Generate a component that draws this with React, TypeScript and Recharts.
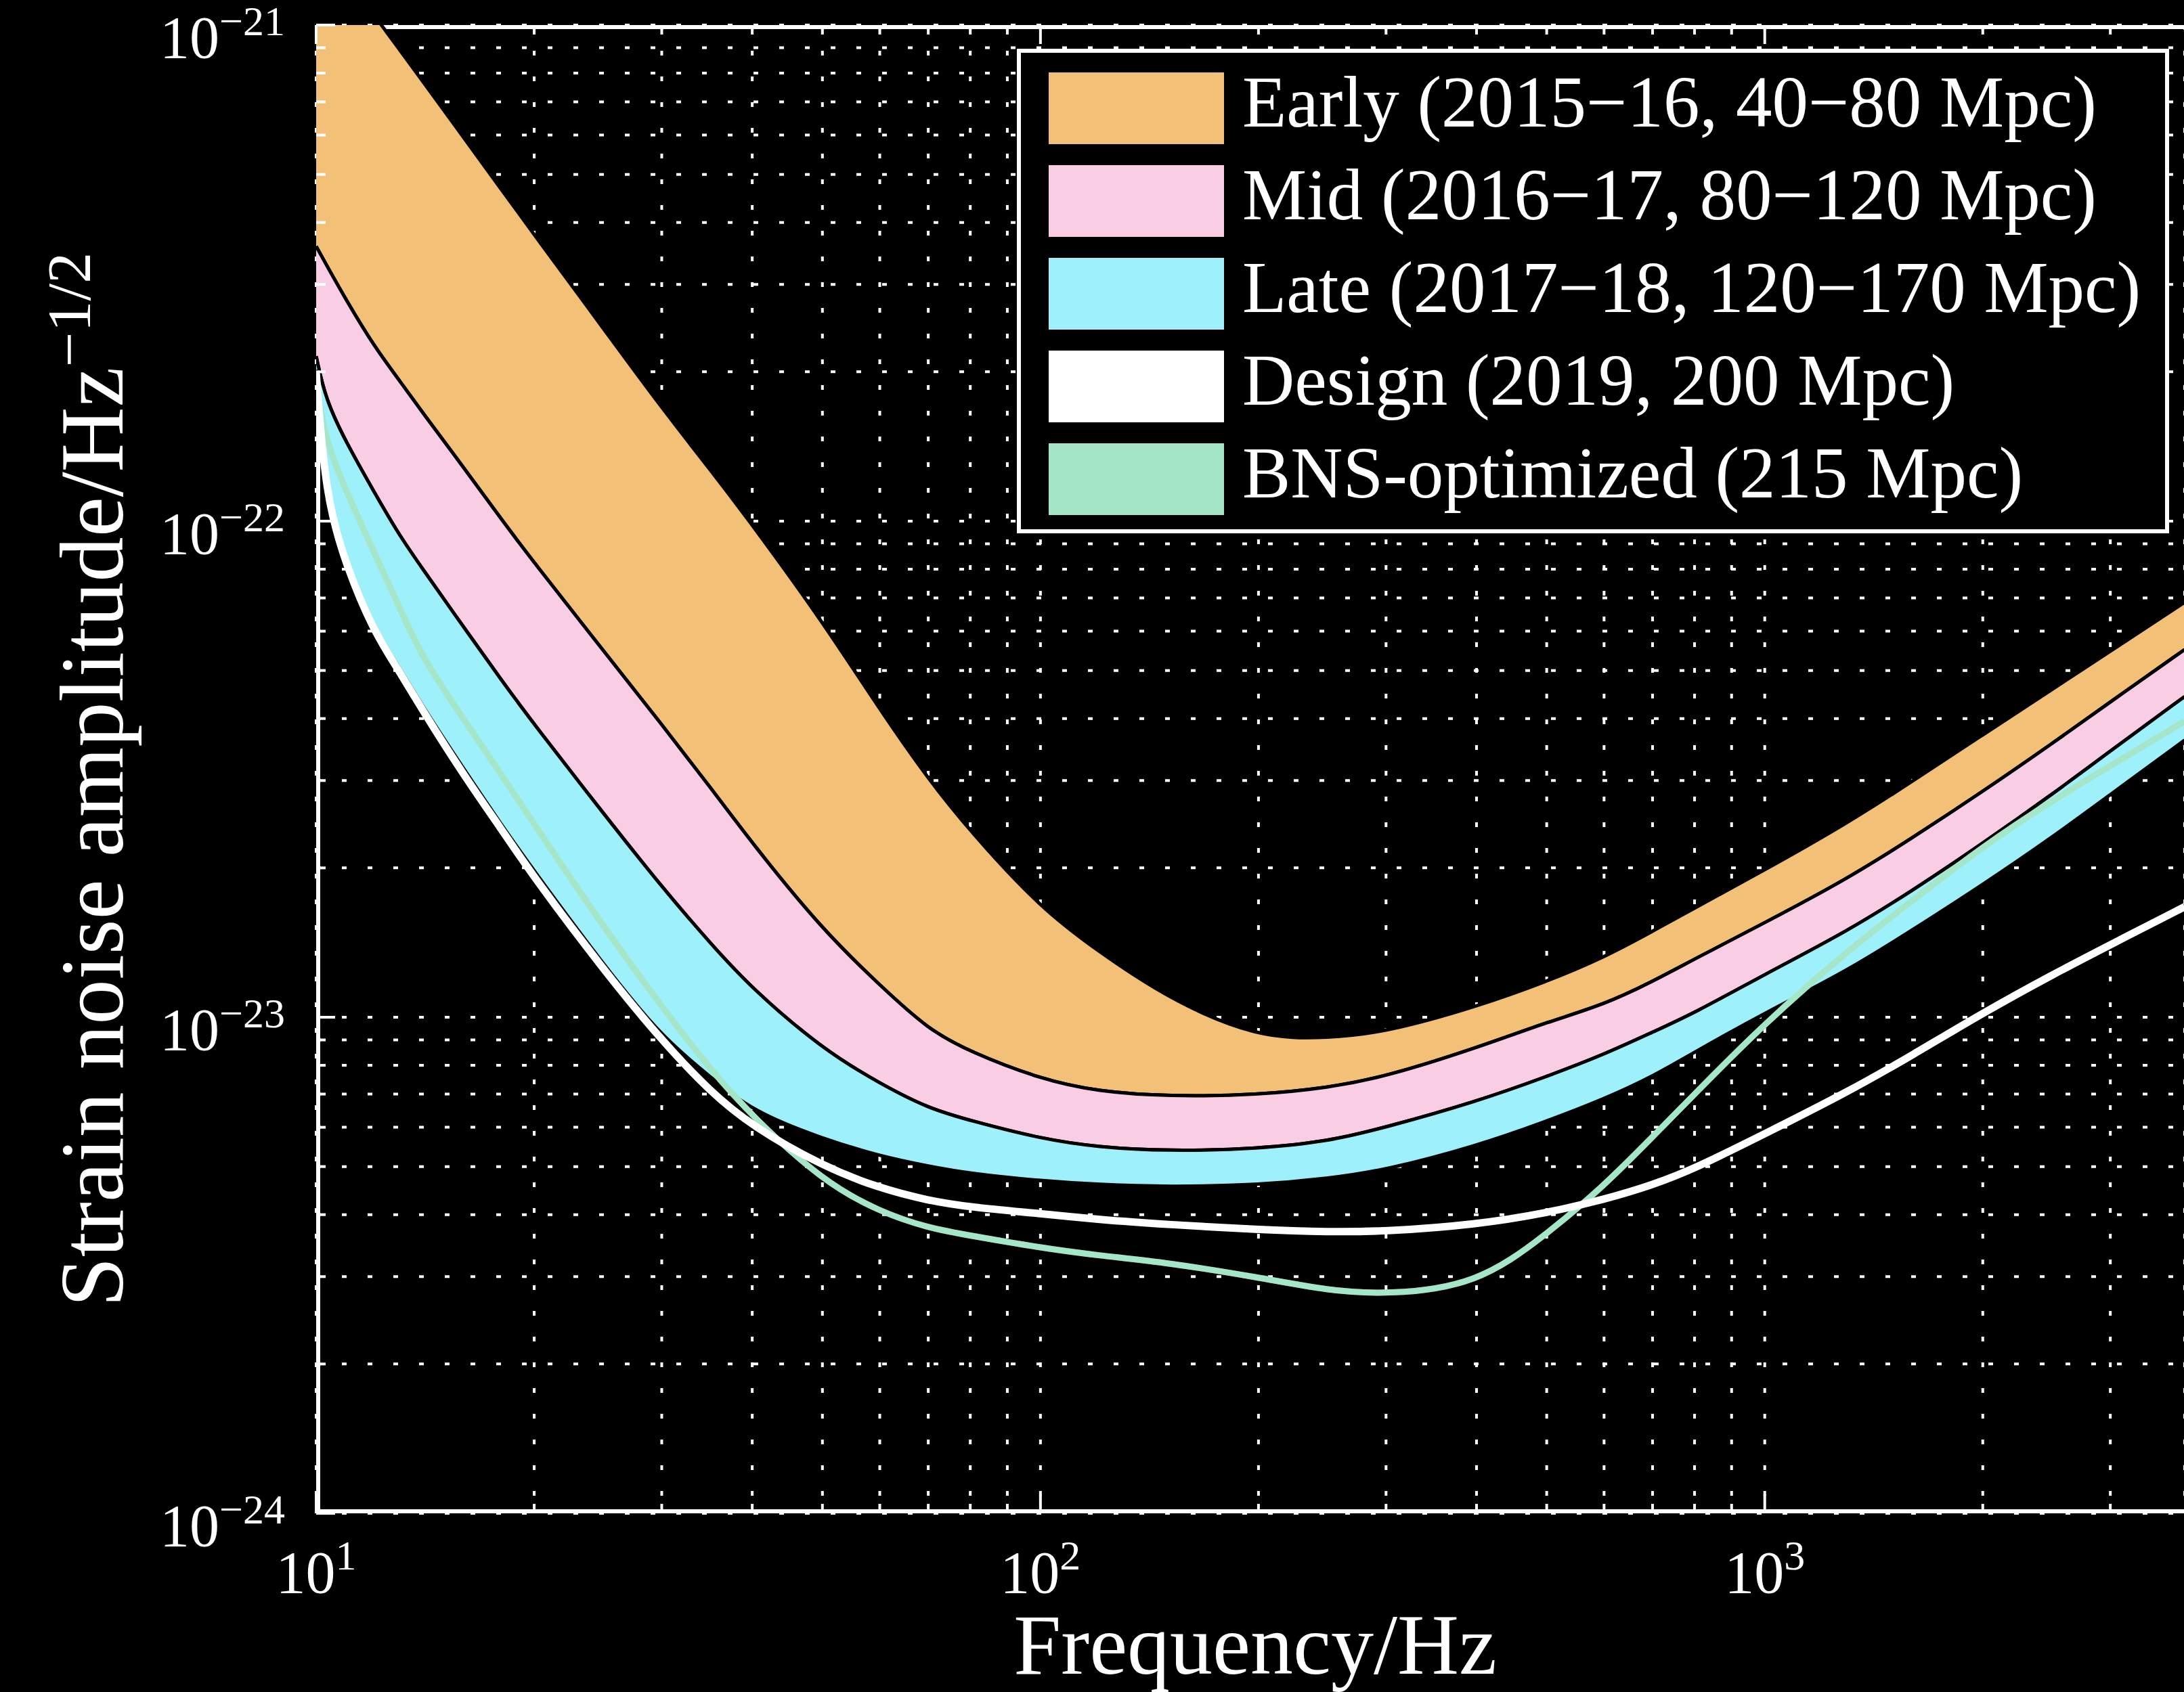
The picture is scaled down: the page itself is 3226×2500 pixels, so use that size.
import React from "react"
import {
  ComposedChart,
  Area,
  Line,
  XAxis,
  YAxis,
  CartesianGrid,
  Legend,
} from "recharts"

// frequency grid (Hz) shared by every curve
const FREQ = [
  10, 10.3, 11, 12, 13, 14, 16, 18, 20, 25, 30, 35, 40, 50, 60, 70, 80, 100, 120,
  150, 200, 250, 300, 400, 500, 600, 700, 800, 1000, 1300, 1600, 2000, 2500, 3000,
  3800,
]

// strain noise amplitude, 1/sqrt(Hz)
const EARLY_HI = [
  1.51e-21, 1.43e-21, 1.26e-21, 1.05e-21, 8.97e-22, 7.74e-22, 5.92e-22, 4.67e-22,
  3.78e-22, 2.43e-22, 1.69e-22, 1.27e-22, 9.84e-23, 6.28e-23, 4.17e-23, 3.02e-23,
  2.37e-23, 1.66e-23, 1.36e-23, 1.09e-23, 9.06e-24, 9.08e-24, 9.33e-24, 1.05e-23,
  1.18e-23, 1.32e-23, 1.49e-23, 1.66e-23, 1.98e-23, 2.46e-23, 2.99e-23, 3.71e-23,
  4.59e-23, 5.47e-23, 6.86e-23,
]
const EARLY_LO = [
  3.58e-22, 3.31e-22, 2.79e-22, 2.26e-22, 1.93e-22, 1.66e-22, 1.28e-22, 1.01e-22,
  8.24e-23, 5.45e-23, 3.89e-23, 2.91e-23, 2.24e-23, 1.5e-23, 1.16e-23, 9.44e-24,
  8.51e-24, 7.5e-24, 7.08e-24, 6.92e-24, 6.97e-24, 7.21e-24, 7.59e-24, 8.67e-24,
  9.77e-24, 1.06e-23, 1.18e-23, 1.31e-23, 1.55e-23, 1.9e-23, 2.3e-23, 2.85e-23,
  3.57e-23, 4.32e-23, 5.51e-23,
]
const MID_LO = [
  2.15e-22, 1.76e-22, 1.44e-22, 1.15e-22, 9.4e-23, 8.04e-23, 6.1e-23, 4.79e-23,
  3.89e-23, 2.56e-23, 1.83e-23, 1.41e-23, 1.14e-23, 8.63e-24, 7.35e-24, 6.55e-24,
  6.19e-24, 5.69e-24, 5.47e-24, 5.37e-24, 5.43e-24, 5.62e-24, 6.0e-24, 6.76e-24,
  7.59e-24, 8.41e-24, 9.33e-24, 1.02e-23, 1.22e-23, 1.49e-23, 1.8e-23, 2.24e-23,
  2.82e-23, 3.44e-23, 4.43e-23,
]
const LATE_LO = [
  2.02e-22, 1.14e-22, 8.3e-23, 6.1e-23, 5.1e-23, 4.25e-23, 3.16e-23, 2.45e-23,
  1.97e-23, 1.27e-23, 9.12e-24, 7.59e-24, 6.46e-24, 5.69e-24, 5.25e-24, 5.01e-24,
  4.84e-24, 4.68e-24, 4.6e-24, 4.55e-24, 4.59e-24, 4.73e-24, 4.92e-24, 5.5e-24,
  6.17e-24, 6.84e-24, 7.59e-24, 8.51e-24, 1.02e-23, 1.24e-23, 1.5e-23, 1.85e-23,
  2.31e-23, 2.81e-23, 3.62e-23,
]
const DESIGN = [
  2.0e-22, 1.12e-22, 8.13e-23, 6.0e-23, 5.01e-23, 4.17e-23, 3.07e-23, 2.4e-23,
  1.91e-23, 1.24e-23, 8.97e-24, 7.08e-24, 6.03e-24, 5.01e-24, 4.52e-24, 4.27e-24,
  4.14e-24, 4.02e-24, 3.91e-24, 3.82e-24, 3.73e-24, 3.69e-24, 3.7e-24, 3.82e-24,
  4.03e-24, 4.29e-24, 4.59e-24, 4.95e-24, 5.82e-24, 7.06e-24, 8.39e-24, 1.02e-23,
  1.22e-23, 1.4e-23, 1.67e-23,
]
const BNS = [
  1.9e-22, 1.45e-22, 1.15e-22, 8.7e-23, 6.76e-23, 5.31e-23, 3.98e-23, 3.09e-23,
  2.45e-23, 1.51e-23, 1.05e-23, 7.85e-24, 6.31e-24, 4.68e-24, 4.05e-24, 3.76e-24,
  3.63e-24, 3.43e-24, 3.31e-24, 3.2e-24, 2.99e-24, 2.81e-24, 2.76e-24, 2.88e-24,
  3.65e-24, 4.57e-24, 5.74e-24, 7.0e-24, 9.73e-24, 1.36e-23, 1.72e-23, 2.21e-23,
  2.74e-23, 3.21e-23, 3.95e-23,
]

const X_TICKS = [
  10, 20, 30, 40, 50, 60, 70, 80, 90, 100, 200, 300, 400, 500, 600, 700, 800, 900,
  1000, 2000, 3000,
]
const Y_TICKS = [
  1e-24, 2e-24, 3e-24, 4e-24, 5e-24, 6e-24, 7e-24, 8e-24, 9e-24,
  1e-23, 2e-23, 3e-23, 4e-23, 5e-23, 6e-23, 7e-23, 8e-23, 9e-23,
  1e-22, 2e-22, 3e-22, 4e-22, 5e-22, 6e-22, 7e-22, 8e-22, 9e-22,
  1e-21,
]

const COLORS = {
  early: "#F2C076",
  mid: "#F9CEE5",
  late: "#9EF0FA",
  design: "#FFFFFF",
  bns: "#A6E6C8",
}

const LEGEND_ITEMS = [
  { label: "Early (2015\u221216, 40\u221280 Mpc)", color: COLORS.early },
  { label: "Mid (2016\u221217, 80\u2212120 Mpc)", color: COLORS.mid },
  { label: "Late (2017\u221218, 120\u2212170 Mpc)", color: COLORS.late },
  { label: "Design (2019, 200 Mpc)", color: COLORS.design },
  { label: "BNS-optimized (215 Mpc)", color: COLORS.bns },
]

const FONT = '"Liberation Serif", "DejaVu Serif", serif'
const PLOT_TOP = 37
const PLOT_LEFT = 467
const PLOT_BOTTOM = 2236

const band = (lo: number[], hi: number[]) =>
  FREQ.map((f, i) => ({ f, lo: lo[i], hi: hi[i] }))
const curve = (v: number[]) => FREQ.map((f, i) => ({ f, v: v[i] }))

const earlyData = band(EARLY_LO, EARLY_HI)
const midData = band(MID_LO, EARLY_LO)
const lateData = band(LATE_LO, MID_LO)
const designData = curve(DESIGN)
const bnsData = curve(BNS)

const exponent = (v: number) => Math.round(Math.log10(v))
const isMajor = (v: number) => Math.abs(Math.log10(v) - exponent(v)) < 1e-6
const fmtExp = (e: number) => (e < 0 ? "\u2212" + Math.abs(e) : String(e))

function XTick(props: any) {
  const { x, y, payload } = props
  const v = payload.value
  const major = isMajor(v)
  const len = major ? 28 : 14
  return (
    <g>
      <line x1={x} x2={x} y1={y} y2={y - len} stroke="#fff" strokeWidth={4} />
      <line x1={x} x2={x} y1={PLOT_TOP} y2={PLOT_TOP + len} stroke="#fff" strokeWidth={4} />
      {major && (
        <text x={x} y={y + 117} textAnchor="middle" fill="#fff" fontFamily={FONT} fontSize={88}>
          <tspan>10</tspan>
          <tspan dy={-34} fontSize={62}>{fmtExp(exponent(v))}</tspan>
        </text>
      )}
    </g>
  )
}

function YTick(props: any) {
  const { x, y, payload } = props
  const v = payload.value
  const major = isMajor(v)
  const len = major ? 28 : 14
  return (
    <g>
      <line x1={x} x2={x + len} y1={y} y2={y} stroke="#fff" strokeWidth={4} />
      {major && (
        <text x={x - 46} y={y + 48} textAnchor="end" fill="#fff" fontFamily={FONT} fontSize={88}>
          <tspan>10</tspan>
          <tspan dy={-33} fontSize={62}>{fmtExp(exponent(v))}</tspan>
        </text>
      )}
    </g>
  )
}

function LegendBox() {
  return (
    <svg width={1702} height={716}>
      <rect x={3} y={3} width={1696} height={710} fill="#000" stroke="#fff" strokeWidth={6} />
      {LEGEND_ITEMS.map((item, i) => (
        <g key={item.label}>
          <rect x={47} y={35 + 137 * i} width={259} height={106} fill={item.color} />
          <text x={333} y={115 + 137 * i} fill="#fff" fontFamily={FONT} fontSize={107}>
            {item.label}
          </text>
        </g>
      ))}
    </svg>
  )
}

export default function App() {
  return (
    <div
      style={{
        position: "absolute",
        left: 0,
        top: 0,
        width: 3226,
        height: 2500,
        overflow: "hidden",
        background: "#000",
      }}
    >
      <ComposedChart
        width={3227}
        height={2500}
        margin={{ top: PLOT_TOP, right: 0, bottom: 164, left: 367 }}
      >
        {/* dotted grid on every major and minor tick */}
        <CartesianGrid stroke="#fff" strokeWidth={4} strokeDasharray="7 31" />
        {/* solid frame, kept just inside the plot so the bands cover it */}
        <CartesianGrid
          stroke="#fff"
          strokeWidth={6}
          horizontalPoints={[PLOT_TOP + 3, PLOT_BOTTOM - 3]}
          verticalPoints={[PLOT_LEFT + 3]}
        />
        <XAxis
          dataKey="f"
          type="number"
          scale="log"
          domain={[10, 3800]}
          ticks={X_TICKS}
          interval={0}
          allowDataOverflow
          height={100}
          tickSize={0}
          tickMargin={0}
          tickLine={false}
          axisLine={false}
          tick={<XTick />}
          label={{
            content: () => (
              <text x={1854} y={2473} textAnchor="middle" fill="#fff" fontFamily={FONT} fontSize={126}>
                Frequency/Hz
              </text>
            ),
          }}
        />
        <YAxis
          type="number"
          scale="log"
          domain={[1e-24, 1e-21]}
          ticks={Y_TICKS}
          interval={0}
          allowDataOverflow
          width={100}
          tickSize={0}
          tickMargin={0}
          tickLine={false}
          axisLine={false}
          tick={<YTick />}
          label={{
            content: () => (
              <text
                x={181}
                y={1152}
                transform="rotate(-90, 181, 1152)"
                textAnchor="middle"
                fill="#fff"
                fontFamily={FONT}
                fontSize={133}
              >
                Strain noise amplitude/Hz
                <tspan dy={-48} fontSize={92}>{"\u22121/2"}</tspan>
              </text>
            ),
          }}
        />

        <Line
          data={bnsData}
          dataKey="v"
          type="basis"
          stroke={COLORS.bns}
          strokeWidth={9}
          dot={false}
          activeDot={false}
          isAnimationActive={false}
        />
        <Area
          data={earlyData}
          dataKey={(d: any) => [d.lo, d.hi]}
          type="basis"
          fill={COLORS.early}
          fillOpacity={1}
          stroke="#000"
          strokeWidth={5}
          isAnimationActive={false}
        />
        <Area
          data={midData}
          dataKey={(d: any) => [d.lo, d.hi]}
          type="basis"
          fill={COLORS.mid}
          fillOpacity={1}
          stroke="#000"
          strokeWidth={5}
          isAnimationActive={false}
        />
        <Area
          data={lateData}
          dataKey={(d: any) => [d.lo, d.hi]}
          type="basis"
          fill={COLORS.late}
          fillOpacity={1}
          stroke="#000"
          strokeWidth={5}
          isAnimationActive={false}
        />
        <Line
          data={bnsData}
          dataKey="v"
          type="basis"
          stroke={COLORS.bns}
          strokeOpacity={0.35}
          strokeWidth={9}
          dot={false}
          activeDot={false}
          isAnimationActive={false}
        />
        <Line
          data={designData}
          dataKey="v"
          type="basis"
          stroke={COLORS.design}
          strokeWidth={11}
          dot={false}
          activeDot={false}
          isAnimationActive={false}
        />
        <Legend
          layout="vertical"
          align="center"
          verticalAlign="middle"
          content={() => <LegendBox />}
          wrapperStyle={{ left: 1502, top: 72, width: 1702, height: 716 }}
        />
      </ComposedChart>
    </div>
  )
}
